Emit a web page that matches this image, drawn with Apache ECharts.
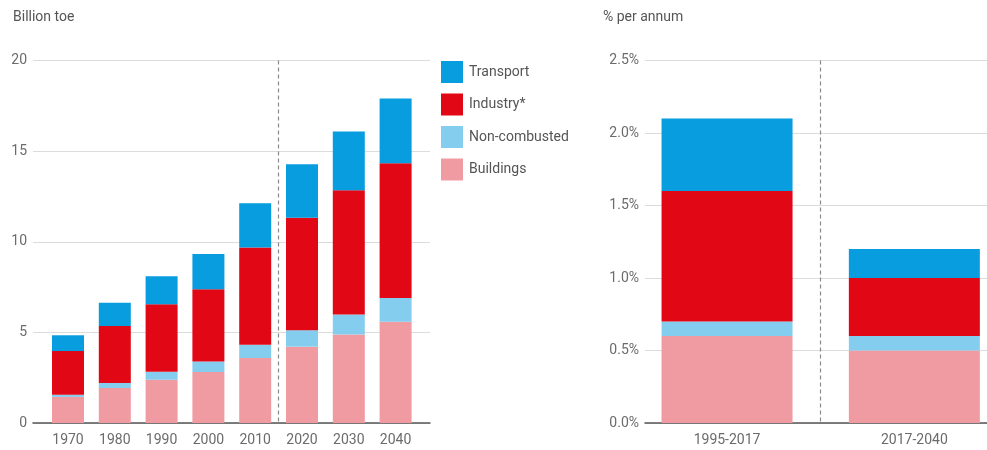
<!DOCTYPE html>
<html>
<head>
<meta charset="utf-8">
<title>Energy demand by sector</title>
<script src="https://cdn.jsdelivr.net/npm/echarts@6/dist/echarts.min.js"></script>
<style>
  html, body { margin: 0; padding: 0; background: #fff; overflow: hidden; }
  /* a little wider than the window so the right panel's last band can run past the edge */
  #chart { width: 1010px; height: 450px; }
</style>
</head>
<body>
<div id="chart"></div>
<script>
// left panel: billion toe by year
const years = ["1970", "1980", "1990", "2000", "2010", "2020", "2030", "2040"];
const buildings = [1.44, 1.93, 2.39, 2.82, 3.59, 4.21, 4.88, 5.59];
const nonCombusted = [0.12, 0.28, 0.44, 0.58, 0.73, 0.91, 1.10, 1.31];
const industry = [2.41, 3.14, 3.72, 3.98, 5.36, 6.21, 6.86, 7.43];
const transport = [0.87, 1.29, 1.55, 1.95, 2.45, 2.95, 3.24, 3.57];

// right panel: growth in % per annum
const periods = ["1995-2017", "2017-2040"];
const buildingsGrowth = [0.6, 0.5];
const nonCombustedGrowth = [0.1, 0.1];
const industryGrowth = [0.9, 0.4];
const transportGrowth = [0.5, 0.2];

const legendNames = ["Transport", "Industry*", "Non-combusted", "Buildings"];
const colors = {
  "Buildings": "#f09ba1",
  "Non-combusted": "#85cdef",
  "Industry*": "#e10714",
  "Transport": "#079dde",
};

const font = "Roboto, 'Liberation Sans', sans-serif";
const labelColor = "#6b6b6b";

const chart = echarts.init(document.getElementById("chart"));

// background axis: grid lines, y labels and the base line
function backAxes(gridIndex, max, interval, fmt) {
  return {
    x: {
      type: "category",
      gridIndex: gridIndex,
      data: [""],
      axisLine: { show: true, lineStyle: { color: "#555", width: 1.5 } },
      axisTick: { show: false },
      axisLabel: { show: false },
    },
    y: {
      type: "value",
      gridIndex: gridIndex,
      min: 0,
      max: max,
      interval: interval,
      axisLine: { show: false },
      axisTick: { show: false },
      axisLabel: {
        color: labelColor,
        fontSize: 14,
        fontFamily: font,
        margin: 6,
        formatter: fmt,
      },
      splitLine: { lineStyle: { color: "#dcdcdc", width: 1 } },
    },
  };
}

// front axis: category labels only
function frontAxes(gridIndex, cats, max) {
  return {
    x: {
      type: "category",
      gridIndex: gridIndex,
      data: cats,
      axisLine: { show: false },
      axisTick: { show: false },
      axisLabel: { color: labelColor, fontSize: 14, fontFamily: font, margin: 10 },
    },
    y: {
      type: "value",
      gridIndex: gridIndex,
      min: 0,
      max: max,
      show: false,
      splitLine: { show: false },
    },
  };
}

// divider axis: one tick per band boundary, only one of them drawn as a dashed line
function dividerAxis(gridIndex, cats, dividerAt) {
  return {
    type: "category",
    gridIndex: gridIndex,
    boundaryGap: false,
    data: cats.concat([""]).map(() => ""),
    axisLine: { show: false },
    axisTick: { show: false },
    axisLabel: { show: false },
    splitLine: {
      show: true,
      interval: (i) => i === dividerAt,
      lineStyle: { color: "#8a8a8a", type: [4, 3], width: 1.2 },
    },
  };
}

const leftBack = backAxes(0, 20, 5, (v) => v);
const leftFront = frontAxes(1, years, 20);
const rightBack = backAxes(2, 2.5, 0.5, (v) => v.toFixed(1) + "%");
const rightFront = frontAxes(3, periods, 2.5);

function stackSeries(name, data, axisIndex, stack, width) {
  return {
    name: name,
    type: "bar",
    stack: stack,
    xAxisIndex: axisIndex,
    yAxisIndex: axisIndex,
    barWidth: width,
    data: data,
    itemStyle: { color: colors[name] },
    emphasis: { disabled: true },
  };
}

const option = {
  animation: false,
  textStyle: { fontFamily: font },
  title: [
    { text: "Billion toe", left: 8, top: 5, textStyle: { fontSize: 14, fontWeight: "normal", color: "#555" } },
    { text: "% per annum", left: 598, top: 5, textStyle: { fontSize: 14, fontWeight: "normal", color: "#555" } },
  ],
  legend: {
    orient: "vertical",
    left: 441,
    top: 61,
    padding: 0,
    itemWidth: 22,
    itemHeight: 22,
    itemGap: 10.5,
    data: legendNames,
    icon: "rect",
    textStyle: { color: "#555", fontSize: 14, padding: [0, 0, 0, 1] },
    selectedMode: false,
  },
  grid: [
    { left: 33, width: 397, top: 60.5, bottom: 27 },
    { left: 44.6, width: 374.4, top: 60.5, bottom: 27 },
    { left: 645, width: 342, top: 60.5, bottom: 27 },
    { left: 633.4, width: 374.6, top: 60.5, bottom: 27 },
  ],
  xAxis: [
    leftBack.x, leftFront.x, rightBack.x, rightFront.x,
    dividerAxis(1, years, 5),
    dividerAxis(3, periods, 1),
  ],
  yAxis: [leftBack.y, leftFront.y, rightBack.y, rightFront.y],
  series: [
    stackSeries("Buildings", buildings, 1, "left", 32),
    stackSeries("Non-combusted", nonCombusted, 1, "left", 32),
    stackSeries("Industry*", industry, 1, "left", 32),
    stackSeries("Transport", transport, 1, "left", 32),
    stackSeries("Buildings", buildingsGrowth, 3, "right", 131),
    stackSeries("Non-combusted", nonCombustedGrowth, 3, "right", 131),
    stackSeries("Industry*", industryGrowth, 3, "right", 131),
    stackSeries("Transport", transportGrowth, 3, "right", 131),
  ],
};

chart.setOption(option);
</script>
</body>
</html>
